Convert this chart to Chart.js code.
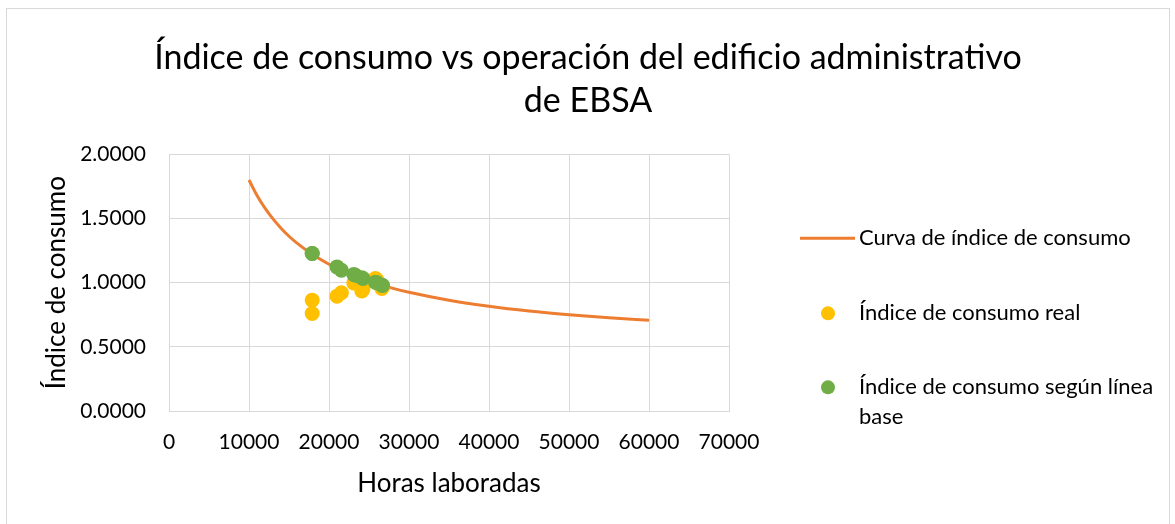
<!DOCTYPE html>
<html>
<head>
<meta charset="utf-8">
<script src="https://cdn.jsdelivr.net/npm/chart.js@4.4.1/dist/chart.umd.min.js"></script>
<style>
body { margin: 0; background: #fff; }
#marco { position: absolute; left: 6px; top: 8px; width: 1162px; height: 516px; border: 1px solid #d9d9d9; }
</style>
</head>
<body>
<div id="marco"><canvas id="grafico" width="1162" height="516"></canvas></div>
<script>
// textos
var titulo = ['Índice de consumo vs operación del edificio administrativo', 'de EBSA'];
var tituloX = 'Horas laboradas';
var tituloY = 'Índice de consumo';
var nombresSeries = ['Curva de índice de consumo', 'Índice de consumo real', 'Índice de consumo según línea base'];

// ejes
var ticksX = [0, 10000, 20000, 30000, 40000, 50000, 60000, 70000];
var ticksY = [0, 0.5, 1, 1.5, 2];

// curva de índice de consumo
var curvaHoras = [10000, 11000, 12000, 13000, 14000, 15000, 16000, 18000, 20000, 22000, 24000, 26000, 28000, 30000, 35000, 40000, 45000, 50000, 55000, 60000];
var curvaIndice = [1.800, 1.680, 1.581, 1.497, 1.425, 1.362, 1.308, 1.217, 1.144, 1.084, 1.035, 0.992, 0.956, 0.925, 0.863, 0.816, 0.779, 0.750, 0.726, 0.707];

// puntos mensuales
var horasMes = [17900, 17900, 21000, 21550, 23100, 23300, 24100, 24250, 25800, 26000, 26600, 26700];
var indiceReal = [0.864, 0.760, 0.895, 0.921, 0.998, 1.006, 0.936, 0.950, 1.033, 1.020, 0.955, 0.965];
var indiceBase = [1.227, 1.227, 1.123, 1.097, 1.064, 1.058, 1.038, 1.033, 1.003, 1.000, 0.980, 0.978];

var colores = ['#ED7D31', '#FFC000', '#70AD47'];

function puntos(xs, ys) {
    return xs.map(function(x, i) { return { x: x, y: ys[i] }; });
}

Chart.defaults.font.family = 'Lato';
Chart.defaults.color = '#000';

/* leyenda dibujada a la derecha */
var leyenda = {
    id: 'leyenda',
    afterDraw: function(chart) {
        var ctx = chart.ctx;
        var area = chart.chartArea;
        var x0 = area.right + 71;
        var xt = area.right + 130;
        var ys = [84, 159, 233];
        var maxAncho = chart.width - xt - 4;
        ctx.save();
        ctx.font = '22px Lato';
        ctx.textBaseline = 'middle';
        chart.data.datasets.forEach(function(ds, i) {
            var y = area.top + ys[i];
            if (ds.showLine) {
                ctx.strokeStyle = ds.borderColor;
                ctx.lineWidth = 3;
                ctx.beginPath();
                ctx.moveTo(x0, y);
                ctx.lineTo(x0 + 55, y);
                ctx.stroke();
            } else {
                ctx.fillStyle = ds.backgroundColor;
                ctx.beginPath();
                ctx.arc(x0 + 28, y, 7, 0, Math.PI * 2);
                ctx.fill();
            }
            // cortar el texto en lineas
            var palabras = ds.label.split(' ');
            var linea = '';
            var lineas = [];
            palabras.forEach(function(p) {
                var prueba = linea ? linea + ' ' + p : p;
                if (ctx.measureText(prueba).width > maxAncho && linea) {
                    lineas.push(linea);
                    linea = p;
                } else {
                    linea = prueba;
                }
            });
            lineas.push(linea);
            ctx.fillStyle = '#000';
            lineas.forEach(function(l, k) {
                ctx.fillText(l, xt, y + k * 30);
            });
        });
        ctx.restore();
    }
};

var ctx = document.getElementById('grafico').getContext('2d');
var grafico = new Chart(ctx, {
    type: 'scatter',
    data: {
        datasets: [
            {
                label: nombresSeries[0],
                data: puntos(curvaHoras, curvaIndice),
                showLine: true,
                borderColor: colores[0],
                backgroundColor: colores[0],
                borderWidth: 3,
                pointRadius: 0,
                cubicInterpolationMode: 'monotone',
                order: 3
            },
            {
                label: nombresSeries[1],
                data: puntos(horasMes, indiceReal),
                backgroundColor: colores[1],
                borderWidth: 0,
                pointRadius: 7.5,
                order: 2
            },
            {
                label: nombresSeries[2],
                data: puntos(horasMes, indiceBase),
                backgroundColor: colores[2],
                borderWidth: 0,
                pointRadius: 7.5,
                order: 1
            }
        ]
    },
    options: {
        responsive: false,
        animation: false,
        layout: { padding: 0 },
        plugins: {
            legend: { display: false },
            tooltip: { enabled: false },
            title: {
                display: true,
                text: titulo,
                color: '#000',
                font: { size: 34, weight: 'normal', lineHeight: 1.27 },
                padding: { top: 27, bottom: 32 }
            }
        },
        scales: {
            x: {
                type: 'linear',
                min: 0,
                max: 70000,
                afterBuildTicks: function(s) { s.ticks = ticksX.map(function(v) { return { value: v }; }); },
                afterFit: function(s) { s.height = 114; },
                ticks: {
                    font: { size: 21 },
                    padding: 19,
                    maxRotation: 0,
                    callback: function(v) { return String(v); }
                },
                grid: { color: '#d9d9d9', drawTicks: false },
                border: { color: '#d9d9d9' },
                title: { display: true, text: tituloX, font: { size: 26 }, padding: { top: 26, bottom: 26 } }
            },
            y: {
                min: 0,
                max: 2,
                afterBuildTicks: function(s) { s.ticks = ticksY.map(function(v) { return { value: v }; }); },
                afterFit: function(s) { s.width = 162; },
                ticks: {
                    font: { size: 21 },
                    padding: 23,
                    callback: function(v) { return v.toFixed(4); }
                },
                grid: { color: '#d9d9d9', drawTicks: false },
                border: { color: '#d9d9d9' },
                title: { display: true, text: tituloY, font: { size: 26 }, padding: { top: 34, bottom: 34 } }
            },
            y2: {
                position: 'right',
                display: true,
                afterFit: function(s) { s.width = 440; },
                ticks: { display: false },
                grid: { display: false },
                border: { display: false }
            }
        }
    },
    plugins: [leyenda]
});
</script>
</body>
</html>
